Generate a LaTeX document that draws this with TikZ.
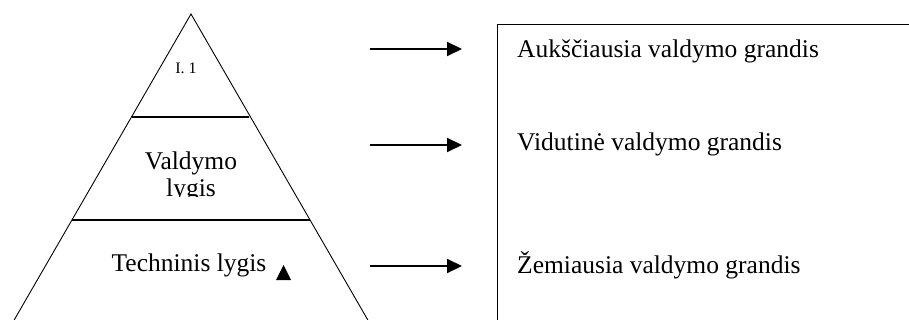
\documentclass[tikz,border=0pt]{standalone}
\usepackage{fontspec}
\setmainfont{Liberation Serif}
\usetikzlibrary{arrows.meta}
\begin{document}
\begin{tikzpicture}[x=1pt,y=-1pt,
  side/.style={line width=0.9pt},
  divider/.style={line width=2pt},
  arr/.style={line width=2pt,-{Triangle[length=15pt,width=14pt]}},
  big/.style={font=\fontsize{25.5}{29}\selectfont, inner sep=0pt},
  lbl/.style={big, anchor=base west}]
\useasboundingbox (0,0) rectangle (909,320);
\begin{scope}
\clip (0,0) rectangle (909,320);
% pyramid
\coordinate (apex) at (191,14);
\coordinate (bl) at (13,322);
\coordinate (br) at (369,322);
\draw[side] (bl) -- (apex) -- (br);
\coordinate (d1l) at (132,117);
\coordinate (d1r) at (249,117);
\coordinate (d2l) at (72,220);
\coordinate (d2r) at (310,220);
\draw[divider] (d1l) -- (d1r);
\draw[divider] (d2l) -- (d2r);
\node[font=\fontsize{16}{18}\selectfont, inner sep=0pt] (t1) at (186,68) {I. 1};
\begin{scope}
\clip (100,130) rectangle (280,197);
\node[big, align=center, font=\fontsize{25.5}{27}\selectfont] (t2) at (191,177) {Valdymo\\lygis};
\end{scope}
\node[big, anchor=base] (t3) at (189,271) {Techninis lygis};
\fill (276,280) -- (291,280) -- (283.5,265) -- cycle;
% arrows
\coordinate (a1s) at (370,49);  \coordinate (a1e) at (462,49);
\coordinate (a2s) at (370,145); \coordinate (a2e) at (462,145);
\coordinate (a3s) at (370,266); \coordinate (a3e) at (462,266);
\draw[arr] (a1s) -- (a1e);
\draw[arr] (a2s) -- (a2e);
\draw[arr] (a3s) -- (a3e);
% box
\coordinate (bxb) at (497,322);
\coordinate (bxt) at (497,24);
\coordinate (bxr) at (911,24);
\draw[line width=0.9pt] (bxb) -- (bxt) -- (bxr);
\node[lbl] (g1) at (517,58) {Aukščiausia valdymo grandis};
\node[lbl] (g2) at (517,151) {Vidutinė valdymo grandis};
\node[lbl] (g3) at (517,273) {Žemiausia valdymo grandis};
\end{scope}
\end{tikzpicture}
\end{document}
